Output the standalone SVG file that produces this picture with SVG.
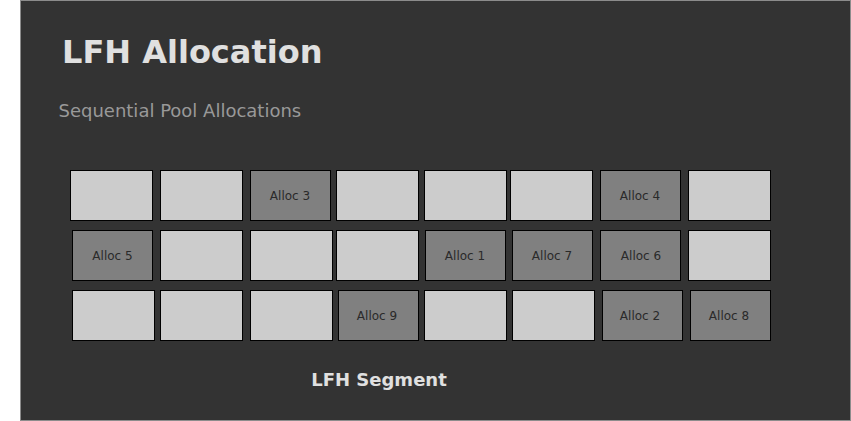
<svg xmlns="http://www.w3.org/2000/svg" width="851" height="421" viewBox="0 0 851 421">
<style>
.bg{fill:#333333;stroke:#8c8c8c;stroke-width:1}
.free{fill:#cccccc;stroke:#000000;stroke-width:1}
.used{fill:#808080;stroke:#000000;stroke-width:1}
.lbl{font-family:"DejaVu Sans",Verdana,sans-serif;font-size:12px;fill:#2a2a2a;text-anchor:middle}
.title{font-family:"DejaVu Sans",Verdana,sans-serif;font-size:32px;font-weight:bold;fill:#e0e0e0}
.sub{font-family:"DejaVu Sans",Verdana,sans-serif;font-size:18px;fill:#999999}
.seg{font-family:"DejaVu Sans",Verdana,sans-serif;font-size:18px;font-weight:bold;fill:#e0e0e0;text-anchor:middle}
</style>
<rect width="851" height="421" fill="#ffffff"/>
<rect class="bg" x="20.5" y="0.5" width="830" height="420"/>
<text class="title" x="62" y="63">LFH Allocation</text>
<text class="sub" x="58.5" y="117">Sequential Pool Allocations</text>
<g id="segment">
<g id="r1c1"><rect class="free" x="70.5" y="170.5" width="82" height="50"/></g>
<g id="r1c2"><rect class="free" x="160.5" y="170.5" width="82" height="50"/></g>
<g id="alloc3"><rect class="used" x="250.5" y="170.5" width="80" height="50"/><text class="lbl" x="290" y="200">Alloc 3</text></g>
<g id="r1c4"><rect class="free" x="336.5" y="170.5" width="82" height="50"/></g>
<g id="r1c5"><rect class="free" x="424.5" y="170.5" width="82" height="50"/></g>
<g id="r1c6"><rect class="free" x="510.5" y="170.5" width="82" height="50"/></g>
<g id="alloc4"><rect class="used" x="600.5" y="170.5" width="80" height="50"/><text class="lbl" x="640" y="200">Alloc 4</text></g>
<g id="r1c8"><rect class="free" x="688.5" y="170.5" width="82" height="50"/></g>

<g id="alloc5"><rect class="used" x="72.5" y="230.5" width="80" height="50"/><text class="lbl" x="112.5" y="260">Alloc 5</text></g>
<g id="r2c2"><rect class="free" x="160.5" y="230.5" width="82" height="50"/></g>
<g id="r2c3"><rect class="free" x="250.5" y="230.5" width="82" height="50"/></g>
<g id="r2c4"><rect class="free" x="336.5" y="230.5" width="82" height="50"/></g>
<g id="alloc1"><rect class="used" x="425.5" y="230.5" width="80" height="50"/><text class="lbl" x="465" y="260">Alloc 1</text></g>
<g id="alloc7"><rect class="used" x="512.5" y="230.5" width="80" height="50"/><text class="lbl" x="552" y="260">Alloc 7</text></g>
<g id="alloc6"><rect class="used" x="600.5" y="230.5" width="80" height="50"/><text class="lbl" x="641" y="260">Alloc 6</text></g>
<g id="r2c8"><rect class="free" x="688.5" y="230.5" width="82" height="50"/></g>

<g id="r3c1"><rect class="free" x="72.5" y="290.5" width="82" height="50"/></g>
<g id="r3c2"><rect class="free" x="160.5" y="290.5" width="82" height="50"/></g>
<g id="r3c3"><rect class="free" x="250.5" y="290.5" width="82" height="50"/></g>
<g id="alloc9"><rect class="used" x="338.5" y="290.5" width="80" height="50"/><text class="lbl" x="377" y="320">Alloc 9</text></g>
<g id="r3c5"><rect class="free" x="424.5" y="290.5" width="82" height="50"/></g>
<g id="r3c6"><rect class="free" x="512.5" y="290.5" width="82" height="50"/></g>
<g id="alloc2"><rect class="used" x="602.5" y="290.5" width="80" height="50"/><text class="lbl" x="640" y="320">Alloc 2</text></g>
<g id="alloc8"><rect class="used" x="690.5" y="290.5" width="80" height="50"/><text class="lbl" x="729" y="320">Alloc 8</text></g>
</g>
<g id="connectors"></g>
<text class="seg" x="379" y="386">LFH Segment</text>
</svg>
